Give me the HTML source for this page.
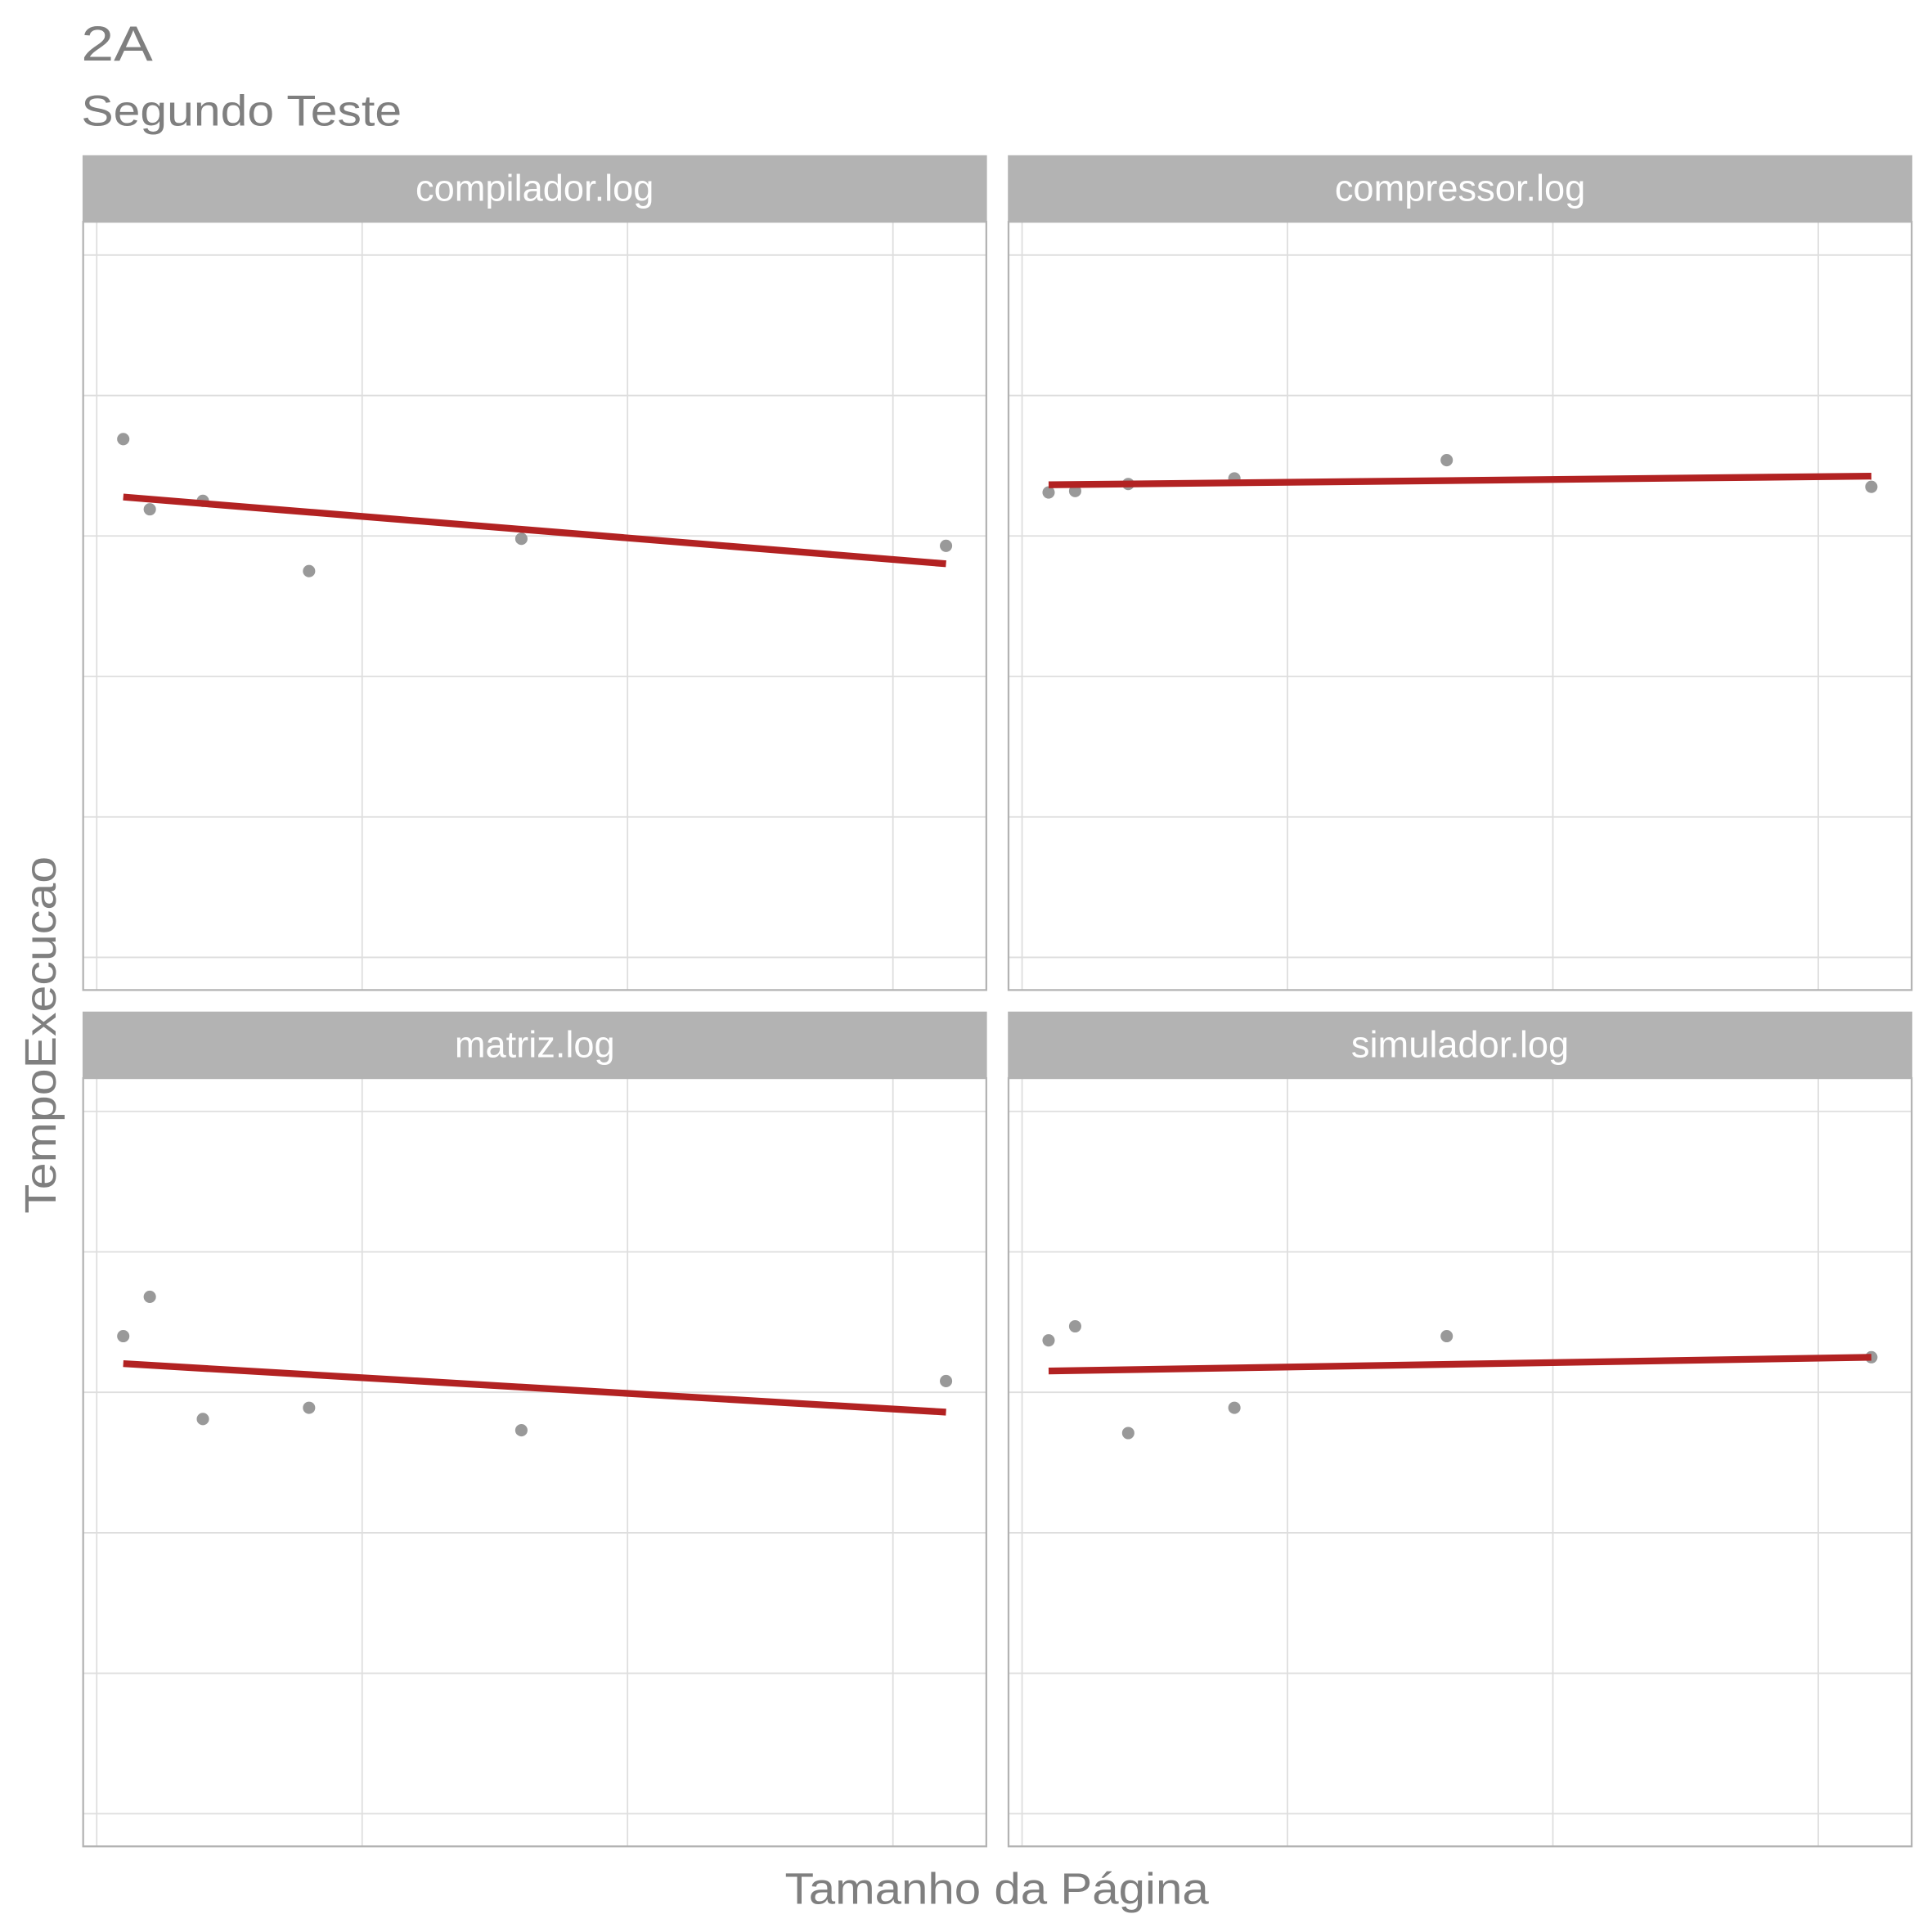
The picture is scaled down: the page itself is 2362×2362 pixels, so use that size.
<!DOCTYPE html>
<html><head><meta charset="utf-8">
<style>
html,body{margin:0;padding:0;background:#fff;}
svg{display:block;}
text{font-family:"Liberation Sans",sans-serif;}
</style></head>
<body>
<svg id="chart" width="2362" height="2362" viewBox="0 0 1568 1568" xmlns="http://www.w3.org/2000/svg">
<rect width="1568" height="1568" fill="#fff"/>
<text x="66" y="49" font-size="40" textLength="58" lengthAdjust="spacingAndGlyphs" fill="#7f7f7f">2A</text>
<text x="66" y="102" font-size="35" textLength="260" lengthAdjust="spacingAndGlyphs" fill="#7f7f7f">Segundo Teste</text>
<text x="637" y="1545" font-size="36" textLength="344" lengthAdjust="spacingAndGlyphs" fill="#7f7f7f">Tamanho da Página</text>
<text transform="translate(45,985) rotate(-90)" font-size="36" textLength="290" lengthAdjust="spacingAndGlyphs" fill="#7f7f7f">TempoExecucao</text>
<g id="panels"></g>
</svg>
<script>
const facets = ["compilador.log","compressor.log","matriz.log","simulador.log"];
const pageSizes = [2,4,8,16,32,64];
const compiladorTimes = [3.69,3.19,3.25,2.75,2.98,2.93];
const compressorTimes = [3.31,3.32,3.37,3.41,3.54,3.35];
const matrizTimes = [3.40,3.68,2.81,2.89,2.73,3.08];
const simuladorTimes = [3.37,3.47,2.71,2.89,3.40,3.25];
const xGridValues = [0,20,40,60];
const yGridValues = [0,1,2,3,4,5];

const seriesList = [compiladorTimes, compressorTimes, matrizTimes, simuladorTimes];
const NS = "http://www.w3.org/2000/svg";
const root = document.getElementById("panels");
function mk(tag, attrs, parent){
  const e = document.createElementNS(NS, tag);
  for (const k in attrs) e.setAttribute(k, attrs[k]);
  parent.appendChild(e);
  return e;
}
const layout = [
  {x0:67, y0:126}, {x0:818, y0:126}, {x0:67, y0:821}, {x0:818, y0:821}
];
const W = 734, STRIP = 54, H = 678;
facets.forEach((name, i) => {
  const L = layout[i];
  const g = mk("g", {}, root);
  
  
  const top = L.y0 + STRIP;
  const xs = v => L.x0 + 11.5 + v * 10.77;
  const ys = v => top + 597 - v * 114;
  mk("rect", {x:L.x0, y:top, width:W, height:H-STRIP, fill:"#fff"}, g);
  xGridValues.forEach(v => {
    const l = mk("line", {x1:xs(v), x2:xs(v), y1:top, y2:L.y0+H, stroke:"#dedede", "stroke-width":1.2}, g);
    
    
  });
  yGridValues.forEach(v => {
    const l = mk("line", {x1:L.x0, x2:L.x0+W, y1:ys(v), y2:ys(v), stroke:"#dedede", "stroke-width":1.2}, g);
    
    
  });
  const border = mk("rect", {x:L.x0+0.5, y:top, width:W-1, height:H-STRIP-0.5, fill:"none", stroke:"#b3b3b3", "stroke-width":1.5}, g);
  
  
  const strip = mk("rect", {x:L.x0, y:L.y0, width:W, height:STRIP, fill:"#b3b3b3"}, g);
  
  
  const st = mk("text", {x:L.x0+W/2, y:L.y0+37, "font-size":30, fill:"#fff", "text-anchor":"middle"}, g);
  st.textContent = name;
  
  
  const ys_ = seriesList[i];
  const n = pageSizes.length;
  const mx = pageSizes.reduce((a,b)=>a+b,0)/n;
  const my = ys_.reduce((a,b)=>a+b,0)/n;
  let sxy=0, sxx=0;
  for (let k=0;k<n;k++){ sxy+=(pageSizes[k]-mx)*(ys_[k]-my); sxx+=(pageSizes[k]-mx)**2; }
  const b = sxy/sxx, a = my - b*mx;
  const xmin = Math.min(...pageSizes), xmax = Math.max(...pageSizes);
  ys_.forEach((v,k) => {
    const c = mk("circle", {cx:xs(pageSizes[k]), cy:ys(v), r:5, fill:"#999999"}, g);
    
    
  });
  const fl = mk("line", {x1:xs(xmin), y1:ys(a+b*xmin), x2:xs(xmax), y2:ys(a+b*xmax), stroke:"#b22222", "stroke-width":5.5}, g);
  
  
});
</script>
</body></html>
